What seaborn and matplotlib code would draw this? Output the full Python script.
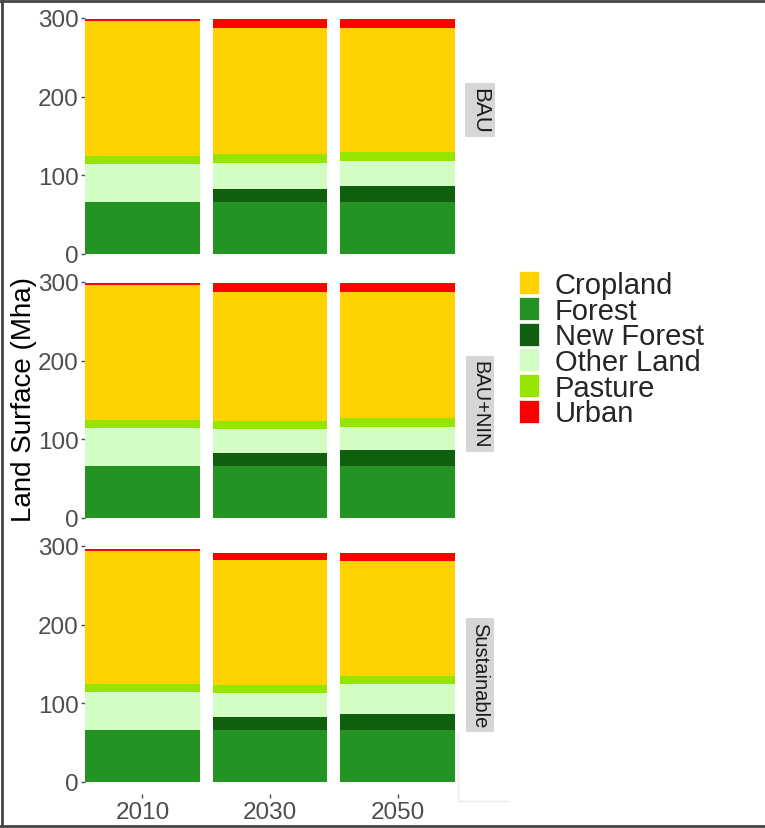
import matplotlib
matplotlib.use("Agg")
import matplotlib.pyplot as plt
from matplotlib.patches import Patch
from matplotlib.lines import Line2D
import matplotlib.transforms as mtransforms
import numpy as np
import seaborn as sns

years = ["2010", "2030", "2050"]
scenarios = ["BAU", "BAU+NIN", "Sustainable"]
# stacking order, bottom to top
layers = ["Forest", "New Forest", "Other Land", "Pasture", "Cropland", "Urban"]

bau = {
    "Forest":     [66, 66, 66],
    "New Forest": [0, 16.5, 20],
    "Other Land": [48.5, 33, 32.5],
    "Pasture":    [10.5, 11.5, 11],
    "Cropland":   [170.5, 160, 157.5],
    "Urban":      [2.5, 11, 11],
}
bau_nin = {
    "Forest":     [66, 66, 66],
    "New Forest": [0, 16.5, 20.5],
    "Other Land": [48.5, 30.5, 29.5],
    "Pasture":    [10.5, 10.5, 10.5],
    "Cropland":   [170.5, 164, 161],
    "Urban":      [2.5, 11, 11],
}
sustainable = {
    "Forest":     [66, 65.5, 65.5],
    "New Forest": [0, 16.5, 20.5],
    "Other Land": [48.5, 31, 38],
    "Pasture":    [10.5, 10.5, 10.5],
    "Cropland":   [169, 158, 146],
    "Urban":      [2.5, 10, 10.5],
}
panel_data = [bau, bau_nin, sustainable]

colors = {
    "Cropland": "#FDD200",
    "Forest": "#239423",
    "New Forest": "#105F0E",
    "Other Land": "#D3FEC3",
    "Pasture": "#95E500",
    "Urban": "#FF0000",
}
legend_order = ["Cropland", "Forest", "New Forest", "Other Land", "Pasture", "Urban"]

sns.set_theme(style="white")
plt.rcParams["font.family"] = ["Liberation Sans", "DejaVu Sans"]

fig = plt.figure(figsize=(7.65, 8.29), dpi=100)

W, H = 765, 829
left_px, right_px = 85, 455
panel_h = 259.7
panel_bottoms = [266.8, 530.8, 794.8]
strip_y = [183, 145, 136]
strip_sizes = [16, 14.5, 14.5]

for i, (scen, data) in enumerate(zip(scenarios, panel_data)):
    ax = fig.add_axes([left_px / W, 1 - panel_bottoms[i] / H,
                       (right_px - left_px) / W, panel_h / H])
    cum = np.cumsum([data[l] for l in layers], axis=0)
    # overdraw cumulative totals from top layer down
    for k in range(len(layers) - 1, -1, -1):
        sns.barplot(x=years, y=cum[k], color=colors[layers[k]], width=0.9,
                    saturation=1, ax=ax, linewidth=0)
    ax.set_xlim(-0.45, 2.45)
    ax.set_ylim(-15, 315)
    ax.set_yticks([0, 100, 200, 300])
    ax.set_ylabel("")
    ax.set_xlabel("")
    for s in ax.spines.values():
        s.set_visible(False)
    ax.tick_params(axis="y", left=True, length=3, width=1, color="#4D4D4D",
                   labelsize=17.5, labelcolor="#4D4D4D", pad=1.5)
    if i == 2:
        ax.tick_params(axis="x", bottom=True, length=3, width=1, color="#4D4D4D",
                       labelsize=17.5, labelcolor="#4D4D4D", pad=2)
    else:
        ax.tick_params(axis="x", bottom=False, labelbottom=False)
    trans = mtransforms.blended_transform_factory(ax.transAxes, ax.transData)
    ax.text(1.0676, strip_y[i], scen, transform=trans, rotation=270,
            ha="center", va="center", fontsize=strip_sizes[i], color="#1A1A1A",
            bbox=dict(boxstyle="square,pad=0.2", fc="#D6D6D6", ec="none"))

fig.text(24 / W, 1 - 400 / H, "Land Surface (Mha)", rotation=90,
         ha="center", va="center", fontsize=20, color="black")

handles = [Patch(facecolor=colors[c], edgecolor="white", linewidth=0.5)
           for c in legend_order]
fig.legend(handles, legend_order, loc="upper left",
           bbox_to_anchor=(519 / W, 1 - 272 / H), frameon=False,
           fontsize=21, handlelength=0.67, handleheight=0.83,
           handletextpad=0.55, labelspacing=-0.08, borderpad=0,
           borderaxespad=0)

# outer frame and faint artefact lines
frame_kw = dict(color="#444444", linewidth=2, transform=fig.transFigure)
fig.add_artist(Line2D([0.003, 0.003], [0.002, 0.998], **frame_kw))
fig.add_artist(Line2D([0.0, 1.0], [0.998, 0.998], **frame_kw))
fig.add_artist(Line2D([0.0, 1.0], [0.003, 0.003], **frame_kw))
faint_kw = dict(color="#E6EBE6", linewidth=1, transform=fig.transFigure)
fig.add_artist(Line2D([458 / W, 458 / W], [1 - 733 / H, 1 - 802 / H], **faint_kw))
fig.add_artist(Line2D([458 / W, 508 / W], [1 - 802 / H, 1 - 802 / H], **faint_kw))

fig.savefig("out.png", dpi=100)
